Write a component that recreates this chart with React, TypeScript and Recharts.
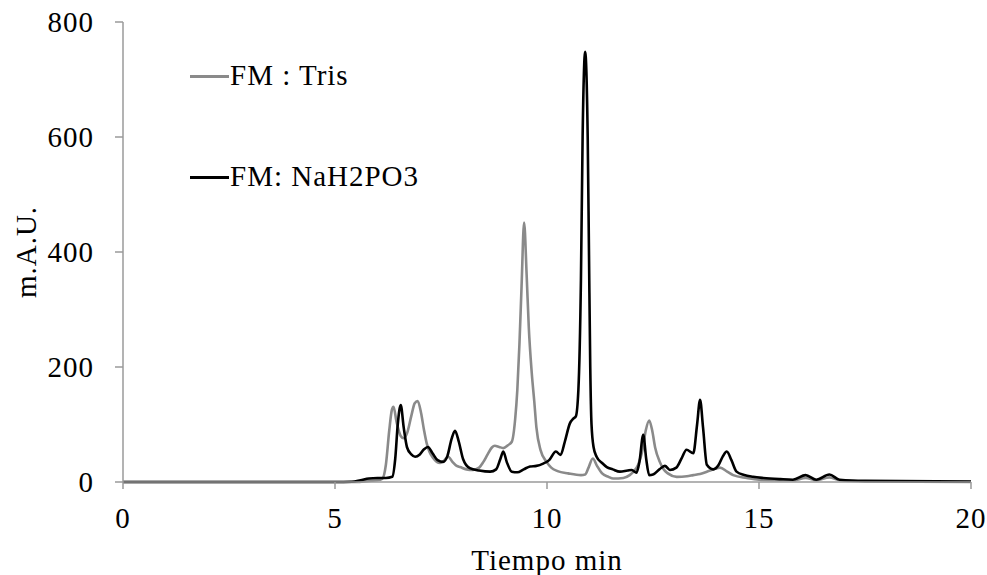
import React from "react";
import { Label, Legend, Line, LineChart, XAxis, YAxis } from "recharts";

// retention time (min) and absorbance (m.A.U.) for each mobile phase
const trisTime = [
  0, 5.5, 5.8, 6.0, 6.12, 6.2, 6.28, 6.34, 6.38, 6.45, 6.55, 6.62, 6.7, 6.8, 6.88, 6.95,
  7.03, 7.1, 7.16, 7.23, 7.31, 7.4, 7.48, 7.58, 7.67, 7.77, 7.87, 7.95, 8.1, 8.25, 8.4, 8.5,
  8.6, 8.7, 8.77, 8.87, 8.97, 9.08, 9.17, 9.25, 9.3, 9.35, 9.4, 9.46, 9.52, 9.57, 9.64, 9.7,
  9.75, 9.85, 9.99, 10.1, 10.25, 10.5, 10.8, 10.9, 10.98, 11.08, 11.18, 11.3, 11.45, 11.56,
  11.8, 11.95, 12.04, 12.15, 12.25, 12.33, 12.41, 12.48, 12.55, 12.66, 12.75, 12.85, 13.06,
  13.3, 13.45, 13.61, 13.85, 14.08, 14.25, 14.39, 14.71, 15.0, 15.5, 15.8, 16.1, 16.35, 16.66,
  16.9, 17.5, 20,
];
const trisValue = [
  0, 0, 2, 3, 6, 30, 90, 125, 131, 105, 80, 76, 85, 115, 137, 141,
  120, 90, 68, 52, 42, 35, 33, 38, 44, 35, 28, 26, 22, 21, 25, 35,
  48, 60, 63, 61, 59, 64, 70, 110, 160, 240, 340, 451, 360, 270, 190, 140,
  95, 55, 35, 25, 19, 15, 12, 13, 25, 41, 28, 15, 9, 6,
  7, 12, 18, 30, 55, 90, 107, 90, 60, 35, 22, 15, 9,
  10, 12, 14, 20, 25, 18, 12, 7, 4, 3, 3, 7, 3, 8,
  3, 1, 0,
];

const phosTime = [
  0, 5.0, 5.4, 5.6, 5.8, 6.0, 6.2, 6.35, 6.42, 6.48, 6.55, 6.62, 6.7, 6.8, 6.89, 7.0,
  7.1, 7.19, 7.3, 7.42, 7.55, 7.65, 7.75, 7.83, 7.92, 8.02, 8.18, 8.4, 8.66, 8.8, 8.9, 8.97,
  9.05, 9.17, 9.3, 9.45, 9.6, 9.75, 9.91, 10.05, 10.21, 10.32, 10.42, 10.54, 10.62, 10.68,
  10.74, 10.8, 10.84, 10.9, 10.96, 10.99, 11.02, 11.05, 11.1, 11.17, 11.3, 11.41, 11.55,
  11.72, 11.9, 12.0, 12.11, 12.18, 12.27, 12.34, 12.41, 12.5, 12.65, 12.78, 12.9, 13.05,
  13.18, 13.29, 13.45, 13.54, 13.61, 13.68, 13.77, 13.92, 14.05, 14.15, 14.24, 14.35, 14.47,
  14.65, 14.86, 15.1, 15.5, 15.8, 16.1, 16.35, 16.66, 16.9, 17.5, 20,
];
const phosValue = [
  0, 0, 0.5, 3, 6, 7, 7, 9, 40, 100, 134, 95, 60, 48, 44, 48,
  57, 61, 50, 38, 35, 45, 75, 89, 70, 40, 24, 20, 18, 22, 40, 53,
  35, 18, 17, 22, 27, 28, 32, 38, 53, 47, 70, 102, 110, 114,
  160, 350, 600, 748, 600, 400, 200, 100, 60, 44, 33, 26, 22,
  18, 20, 21, 16, 35, 82, 40, 12, 13, 22, 28, 21, 25,
  42, 56, 50, 100, 143, 95, 30, 22, 30, 45, 53, 38, 18,
  12, 9, 7, 5, 4, 12, 4, 13, 4, 2, 1,
];

const xTicks = [0, 5, 10, 15, 20];
const yTicks = [0, 200, 400, 600, 800];

const trisData = trisTime.map((t, i) => ({ t, v: trisValue[i] }));
const phosData = phosTime.map((t, i) => ({ t, v: phosValue[i] }));

const FONT = "'Liberation Serif', 'Times New Roman', serif";
const FS = 29;
const LS = 1;
const AXIS = "#9a9a9a";
const GRAY = "#8a8a8a";

const legendRows = [
  { name: "FM : Tris", color: GRAY },
  { name: "FM: NaH2PO3", color: "#000" },
];

function ChromLegend() {
  return (
    <div style={{ fontFamily: FONT, fontSize: FS, letterSpacing: LS, color: "#000" }}>
      {legendRows.map((r, i) => (
        <div key={r.name} style={{ display: "flex", alignItems: "center", height: 30, marginBottom: i === 0 ? 71 : 0 }}>
          <span style={{ display: "inline-block", width: 39, height: 3, background: r.color, marginRight: 1, marginTop: 2 }} />
          <span style={{ whiteSpace: "nowrap" }}>{r.name}</span>
        </div>
      ))}
    </div>
  );
}

const tickStyle = { fill: "#000", fontFamily: FONT, fontSize: FS, letterSpacing: LS };

export default function App() {
  return (
    <div style={{ position: "absolute", left: 0, top: 0, background: "#fff" }}>
      <LineChart width={987} height={575} margin={{ top: 22, right: 16, left: 0, bottom: 0 }}>
        <XAxis
          dataKey="t"
          type="number"
          domain={[0, 20]}
          ticks={xTicks}
          allowDuplicatedCategory={false}
          height={93}
          stroke={AXIS}
          strokeWidth={1.5}
          tickSize={7}
          tickMargin={18}
          tick={tickStyle}
        >
          <Label
            content={() => (
              <text x={547} y={570} textAnchor="middle" fontFamily={FONT} fontSize={FS} letterSpacing={LS} fill="#000">
                Tiempo min
              </text>
            )}
          />
        </XAxis>
        <YAxis
          type="number"
          domain={[0, 800]}
          ticks={yTicks}
          width={123}
          stroke={AXIS}
          strokeWidth={1.5}
          tickSize={8}
          tickMargin={21}
          tick={tickStyle}
        >
          <Label
            content={() => (
              <text transform="translate(36,252) rotate(-90)" textAnchor="middle" fontFamily={FONT} fontSize={FS} letterSpacing={LS} fill="#000">
                m.A.U.
              </text>
            )}
          />
        </YAxis>
        {/* centred + middle keeps the legend from reserving plot space */}
        <Legend
          verticalAlign="middle"
          align="center"
          layout="vertical"
          content={<ChromLegend />}
          wrapperStyle={{ position: "absolute", left: 190, top: 60, width: "auto", height: "auto" }}
        />
        <Line
          data={trisData}
          dataKey="v"
          type="monotone"
          stroke={GRAY}
          strokeWidth={2.6}
          dot={false}
          activeDot={false}
          isAnimationActive={false}
        />
        <Line
          data={phosData}
          dataKey="v"
          type="monotone"
          stroke="#000"
          strokeWidth={2.6}
          dot={false}
          activeDot={false}
          isAnimationActive={false}
        />
      </LineChart>
    </div>
  );
}
